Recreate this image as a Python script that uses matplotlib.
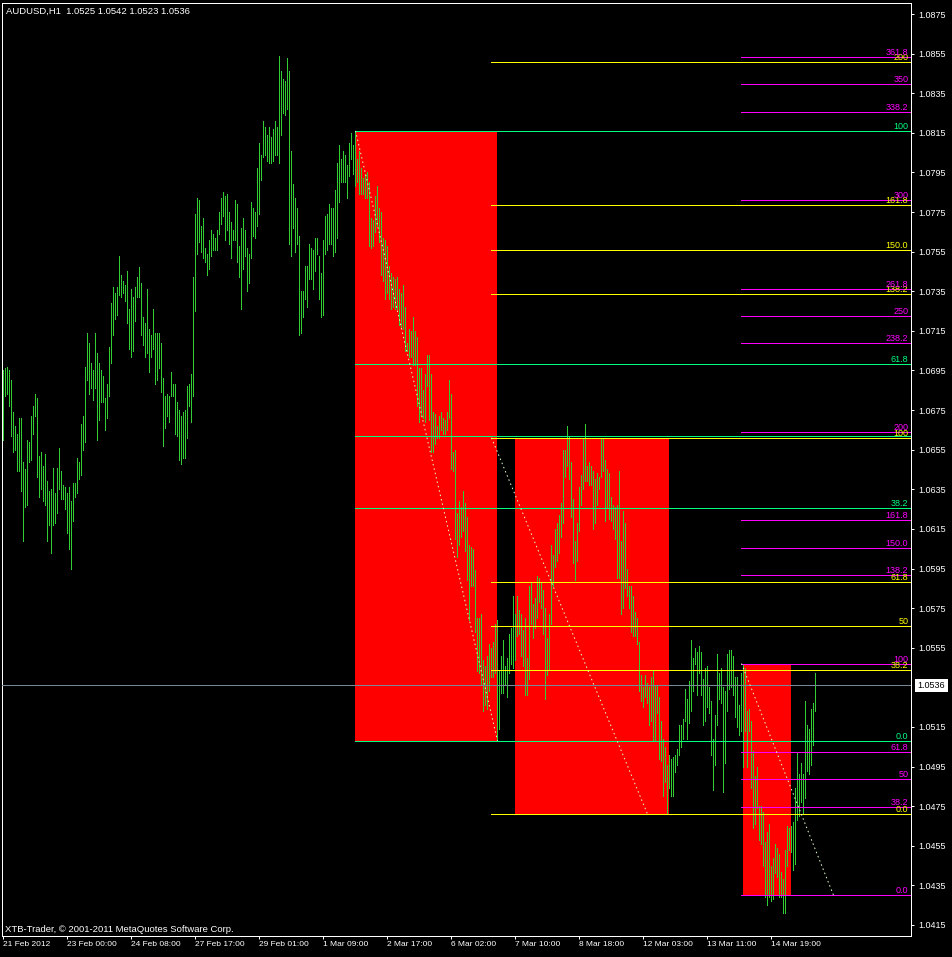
import matplotlib
matplotlib.use("Agg")
import matplotlib.pyplot as plt
from matplotlib.patches import Rectangle
from matplotlib.transforms import blended_transform_factory

plt.rcParams['font.family'] = ['Liberation Sans', 'DejaVu Sans']

symbol_info = "AUDUSD,H1  1.0525 1.0542 1.0523 1.0536"
copyright_txt = "XTB-Trader, © 2001-2011 MetaQuotes Software Corp."

# H1 bars (high / low)
highs = [
    1.0695, 1.0696, 1.0697, 1.0695, 1.0690, 1.0674, 1.0667, 1.0663, 1.0671, 1.0671,
    1.0649, 1.0645, 1.0660, 1.0659, 1.0672, 1.0677, 1.0683, 1.0681, 1.0652, 1.0654,
    1.0647, 1.0653, 1.0639, 1.0634, 1.0635, 1.0646, 1.0633, 1.0646, 1.0656, 1.0644,
    1.0637, 1.0636, 1.0633, 1.0636, 1.0629, 1.0638, 1.0638, 1.0651, 1.0649, 1.0668,
    1.0672, 1.0697, 1.0714, 1.0709, 1.0699, 1.0695, 1.0714, 1.0704, 1.0699, 1.0695,
    1.0692, 1.0681, 1.0688, 1.0707, 1.0729, 1.0737, 1.0734, 1.0737, 1.0753, 1.0743,
    1.0740, 1.0738, 1.0745, 1.0726, 1.0736, 1.0732, 1.0737, 1.0742, 1.0747, 1.0739,
    1.0722, 1.0719, 1.0736, 1.0716, 1.0713, 1.0726, 1.0714, 1.0714, 1.0714, 1.0709,
    1.0691, 1.0682, 1.0683, 1.0682, 1.0694, 1.0688, 1.0688, 1.0679, 1.0675, 1.0672,
    1.0674, 1.0675, 1.0687, 1.0688, 1.0693, 1.0742, 1.0774, 1.0782, 1.0781, 1.0768,
    1.0772, 1.0757, 1.0754, 1.0761, 1.0766, 1.0764, 1.0762, 1.0766, 1.0775, 1.0782,
    1.0785, 1.0783, 1.0784, 1.0775, 1.0770, 1.0766, 1.0781, 1.0779, 1.0758, 1.0767,
    1.0772, 1.0766, 1.0757, 1.0754, 1.0780, 1.0777, 1.0775, 1.0797, 1.0810, 1.0804,
    1.0821, 1.0818, 1.0814, 1.0818, 1.0813, 1.0817, 1.0821, 1.0818, 1.0854, 1.0846,
    1.0842, 1.0841, 1.0853, 1.0846, 1.0806, 1.0789, 1.0782, 1.0777, 1.0763, 1.0735,
    1.0735, 1.0748, 1.0748, 1.0759, 1.0757, 1.0756, 1.0762, 1.0762, 1.0753, 1.0744,
    1.0761, 1.0773, 1.0774, 1.0779, 1.0777, 1.0777, 1.0786, 1.0800, 1.0809, 1.0802,
    1.0806, 1.0804, 1.0799, 1.0810, 1.0815, 1.0809, 1.0816, 1.0802, 1.0806, 1.0797,
    1.0792, 1.0794, 1.0795, 1.0790, 1.0772, 1.0771, 1.0783, 1.0788, 1.0777, 1.0775,
    1.0762, 1.0761, 1.0758, 1.0748, 1.0744, 1.0742, 1.0741, 1.0742, 1.0736, 1.0734,
    1.0738, 1.0727, 1.0709, 1.0716, 1.0715, 1.0722, 1.0715, 1.0712, 1.0696, 1.0696,
    1.0685, 1.0693, 1.0703, 1.0703, 1.0693, 1.0674, 1.0673, 1.0667, 1.0672, 1.0674,
    1.0671, 1.0670, 1.0674, 1.0690, 1.0683, 1.0654, 1.0655, 1.0623, 1.0629, 1.0626,
    1.0634, 1.0628, 1.0621, 1.0607, 1.0606, 1.0605, 1.0594, 1.0570, 1.0570, 1.0572,
    1.0549, 1.0546, 1.0551, 1.0557, 1.0555, 1.0558, 1.0567, 1.0569, 1.0543, 1.0551,
    1.0559, 1.0546, 1.0550, 1.0562, 1.0565, 1.0581, 1.0572, 1.0581, 1.0574, 1.0572,
    1.0564, 1.0570, 1.0550, 1.0586, 1.0588, 1.0577, 1.0580, 1.0591, 1.0590, 1.0588,
    1.0584, 1.0575, 1.0560, 1.0572, 1.0607, 1.0602, 1.0615, 1.0618, 1.0622, 1.0628,
    1.0655, 1.0655, 1.0667, 1.0662, 1.0649, 1.0630, 1.0609, 1.0618, 1.0636, 1.0642,
    1.0661, 1.0668, 1.0647, 1.0649, 1.0647, 1.0644, 1.0640, 1.0643, 1.0641, 1.0661,
    1.0661, 1.0650, 1.0645, 1.0643, 1.0631, 1.0627, 1.0626, 1.0627, 1.0644, 1.0609,
    1.0624, 1.0618, 1.0595, 1.0586, 1.0586, 1.0581, 1.0573, 1.0570, 1.0558, 1.0541,
    1.0535, 1.0541, 1.0537, 1.0535, 1.0540, 1.0543, 1.0536, 1.0536, 1.0530, 1.0518,
    1.0509, 1.0505, 1.0496, 1.0501, 1.0499, 1.0500, 1.0501, 1.0504, 1.0516, 1.0516,
    1.0519, 1.0534, 1.0529, 1.0538, 1.0559, 1.0550, 1.0555, 1.0553, 1.0556, 1.0553,
    1.0539, 1.0545, 1.0546, 1.0535, 1.0528, 1.0509, 1.0521, 1.0552, 1.0542, 1.0545,
    1.0535, 1.0533, 1.0552, 1.0554, 1.0554, 1.0551, 1.0540, 1.0540, 1.0526, 1.0542,
    1.0547, 1.0545, 1.0523, 1.0524, 1.0518, 1.0503, 1.0490, 1.0495, 1.0475, 1.0475,
    1.0472, 1.0457, 1.0462, 1.0466, 1.0445, 1.0449, 1.0456, 1.0454, 1.0451, 1.0442,
    1.0438, 1.0453, 1.0465, 1.0464, 1.0465, 1.0467, 1.0484, 1.0502, 1.0491, 1.0497,
    1.0491, 1.0528, 1.0516, 1.0514, 1.0524, 1.0527, 1.0542,
]
lows = [
    1.0660, 1.0682, 1.0683, 1.0677, 1.0662, 1.0654, 1.0655, 1.0644, 1.0644, 1.0634,
    1.0609, 1.0626, 1.0627, 1.0649, 1.0650, 1.0663, 1.0672, 1.0641, 1.0631, 1.0635,
    1.0629, 1.0627, 1.0609, 1.0617, 1.0603, 1.0617, 1.0618, 1.0623, 1.0635, 1.0630,
    1.0630, 1.0625, 1.0613, 1.0605, 1.0595, 1.0619, 1.0631, 1.0633, 1.0640, 1.0642,
    1.0655, 1.0659, 1.0690, 1.0683, 1.0686, 1.0680, 1.0686, 1.0660, 1.0670, 1.0679,
    1.0679, 1.0665, 1.0671, 1.0682, 1.0699, 1.0713, 1.0721, 1.0723, 1.0733, 1.0732,
    1.0734, 1.0730, 1.0719, 1.0706, 1.0702, 1.0705, 1.0720, 1.0732, 1.0732, 1.0713,
    1.0708, 1.0702, 1.0704, 1.0694, 1.0702, 1.0706, 1.0688, 1.0690, 1.0696, 1.0684,
    1.0657, 1.0666, 1.0672, 1.0669, 1.0682, 1.0682, 1.0663, 1.0662, 1.0650, 1.0648,
    1.0651, 1.0651, 1.0661, 1.0677, 1.0669, 1.0682, 1.0725, 1.0754, 1.0760, 1.0755,
    1.0752, 1.0750, 1.0743, 1.0746, 1.0753, 1.0756, 1.0756, 1.0756, 1.0764, 1.0769,
    1.0773, 1.0761, 1.0766, 1.0759, 1.0752, 1.0761, 1.0761, 1.0750, 1.0742, 1.0726,
    1.0746, 1.0753, 1.0735, 1.0739, 1.0752, 1.0763, 1.0762, 1.0768, 1.0774, 1.0791,
    1.0803, 1.0804, 1.0801, 1.0800, 1.0800, 1.0801, 1.0804, 1.0804, 1.0800, 1.0814,
    1.0825, 1.0824, 1.0827, 1.0759, 1.0753, 1.0767, 1.0755, 1.0759, 1.0713, 1.0714,
    1.0722, 1.0731, 1.0727, 1.0741, 1.0741, 1.0736, 1.0745, 1.0754, 1.0731, 1.0722,
    1.0723, 1.0754, 1.0756, 1.0759, 1.0759, 1.0753, 1.0755, 1.0762, 1.0780, 1.0790,
    1.0790, 1.0790, 1.0782, 1.0793, 1.0802, 1.0794, 1.0788, 1.0790, 1.0784, 1.0784,
    1.0784, 1.0782, 1.0782, 1.0758, 1.0757, 1.0758, 1.0765, 1.0768, 1.0760, 1.0743,
    1.0740, 1.0731, 1.0734, 1.0731, 1.0726, 1.0727, 1.0726, 1.0726, 1.0718, 1.0717,
    1.0716, 1.0705, 1.0705, 1.0702, 1.0702, 1.0698, 1.0698, 1.0677, 1.0669, 1.0672,
    1.0671, 1.0669, 1.0687, 1.0670, 1.0654, 1.0654, 1.0658, 1.0661, 1.0661, 1.0665,
    1.0663, 1.0663, 1.0665, 1.0671, 1.0645, 1.0644, 1.0610, 1.0601, 1.0607, 1.0611,
    1.0614, 1.0604, 1.0589, 1.0569, 1.0586, 1.0586, 1.0563, 1.0543, 1.0542, 1.0536,
    1.0523, 1.0526, 1.0524, 1.0533, 1.0540, 1.0540, 1.0542, 1.0508, 1.0514, 1.0532,
    1.0532, 1.0536, 1.0530, 1.0542, 1.0547, 1.0545, 1.0549, 1.0561, 1.0562, 1.0551,
    1.0546, 1.0531, 1.0531, 1.0539, 1.0567, 1.0560, 1.0565, 1.0570, 1.0578, 1.0575,
    1.0562, 1.0529, 1.0541, 1.0544, 1.0567, 1.0586, 1.0596, 1.0599, 1.0603, 1.0611,
    1.0618, 1.0641, 1.0647, 1.0640, 1.0621, 1.0598, 1.0589, 1.0599, 1.0614, 1.0627,
    1.0635, 1.0639, 1.0639, 1.0637, 1.0637, 1.0615, 1.0618, 1.0627, 1.0635, 1.0641,
    1.0644, 1.0619, 1.0626, 1.0620, 1.0619, 1.0615, 1.0610, 1.0590, 1.0590, 1.0572,
    1.0575, 1.0585, 1.0581, 1.0575, 1.0563, 1.0561, 1.0561, 1.0557, 1.0533, 1.0528,
    1.0525, 1.0530, 1.0527, 1.0516, 1.0518, 1.0508, 1.0508, 1.0522, 1.0499, 1.0498,
    1.0480, 1.0487, 1.0471, 1.0484, 1.0480, 1.0480, 1.0492, 1.0496, 1.0501, 1.0505,
    1.0509, 1.0518, 1.0509, 1.0517, 1.0523, 1.0533, 1.0547, 1.0531, 1.0542, 1.0531,
    1.0516, 1.0518, 1.0525, 1.0522, 1.0501, 1.0483, 1.0496, 1.0516, 1.0529, 1.0527,
    1.0482, 1.0497, 1.0523, 1.0534, 1.0535, 1.0531, 1.0520, 1.0515, 1.0511, 1.0513,
    1.0495, 1.0513, 1.0495, 1.0513, 1.0484, 1.0464, 1.0466, 1.0474, 1.0458, 1.0456,
    1.0445, 1.0429, 1.0425, 1.0429, 1.0427, 1.0428, 1.0441, 1.0439, 1.0429, 1.0429,
    1.0421, 1.0421, 1.0445, 1.0453, 1.0452, 1.0443, 1.0446, 1.0468, 1.0470, 1.0477,
    1.0471, 1.0479, 1.0493, 1.0491, 1.0496, 1.0506, 1.0523,
]
last_price = 1.0536

time_ticks = [0, 32, 64, 96, 128, 160, 192, 224, 256, 288, 320, 352, 384]
time_labels = ["21 Feb 2012", "23 Feb 00:00", "24 Feb 08:00", "27 Feb 17:00",
               "29 Feb 01:00", "1 Mar 09:00", "2 Mar 17:00", "6 Mar 02:00",
               "7 Mar 10:00", "8 Mar 18:00", "12 Mar 03:00", "13 Mar 11:00",
               "14 Mar 19:00"]
# the 1.0535 label is hidden under the last-price box in the terminal
price_ticks = [1.0875, 1.0855, 1.0835, 1.0815, 1.0795, 1.0775, 1.0755, 1.0735,
               1.0715, 1.0695, 1.0675, 1.0655, 1.0635, 1.0615, 1.0595, 1.0575,
               1.0555, 1.0515, 1.0495, 1.0475, 1.0455, 1.0435, 1.0415]

# rectangles (bar from, bar to, price top, price bottom)
rect_t0 = [176, 256, 370]
rect_t1 = [247, 333, 394]
rect_top = [1.0816, 1.0661, 1.0547]
rect_bot = [1.0508, 1.0471, 1.0430]

# fibo objects: anchor bars, anchor prices, levels, labels
green_t = [176, 247]
green_p = [1.0816, 1.0508]
green_lv = [0, 38.2, 50, 61.8, 100]
green_lb = ["0.0", "38.2", "", "61.8", "100"]

yellow_t = [244, 322]
yellow_p = [1.0661, 1.0471]
yellow_lv = [0, 38.2, 50, 61.8, 100, 138.2, 150, 161.8, 200]
yellow_lb = ["0.0", "38.2", "50", "61.8", "100", "138.2", "150.0", "161.8", "200"]

mag_t = [369, 415]
mag_p = [1.0547, 1.0430]
mag_lv = [0, 38.2, 50, 61.8, 100, 138.2, 150, 161.8, 200, 238.2, 250, 261.8,
          300, 338.2, 350, 361.8]
mag_lb = ["0.0", "38.2", "50", "61.8", "100", "138.2", "150.0", "161.8", "200",
          "238.2", "250", "261.8", "300", "338.2", "350", "361.8"]

W, H = 953, 957
px = 0.72  # one pixel in points at dpi 100

fig = plt.figure(figsize=(W / 100, H / 100), dpi=100, facecolor="black")
ax = fig.add_axes([2.5 / W, (H - 935.5) / H, 909 / W, 933 / H])
ax.set_facecolor("black")
ax.set_xlim(-0.5, 454)
ax.set_ylim(1.040969, 1.088081)
for s in ax.spines.values():
    s.set_color("white")
    s.set_linewidth(px)

XMAX = 454
blend = blended_transform_factory(ax.transAxes, ax.transData)

# red rectangles
for t0, t1, top, bot in zip(rect_t0, rect_t1, rect_top, rect_bot):
    ax.add_patch(Rectangle((t0, bot), t1 - t0, top - bot, facecolor="#ff0000",
                           edgecolor="none", zorder=1))

# bars
ax.vlines(range(len(highs)), lows, highs, color="#32cd32", lw=px,
          antialiased=False, zorder=2)

# fibo levels
fibs = [
    (green_t, green_p, green_lv, green_lb, "#00ff7f"),
    (yellow_t, yellow_p, yellow_lv, yellow_lb, "#ffff00"),
    (mag_t, mag_p, mag_lv, mag_lb, "#ff00ff"),
]
for t, p, lvls, labs, col in fibs:
    for lv, lab in zip(lvls, labs):
        y = p[1] + lv / 100 * (p[0] - p[1])
        ax.hlines(y, t[0], XMAX, color=col, lw=px, antialiased=False, zorder=3)
        if lab:
            ax.text(0.9965, y, lab, transform=blend, ha="right", va="bottom",
                    color=col, fontsize=6.5, zorder=5)
for t, p, lvls, labs, col in fibs:
    ax.plot(t, p, color="#ddffcc", lw=px, ls=(0, (1.5, 3)), zorder=4)

# last price line and label
ax.axhline(last_price, color="#778899", lw=px, antialiased=False, zorder=3)
ax.annotate(f"{last_price:.4f}", xy=(1, last_price),
            xycoords=("axes fraction", "data"), xytext=(4.5, 0),
            textcoords="offset points", ha="left", va="center", color="black",
            fontsize=6.5, zorder=6, annotation_clip=False,
            bbox=dict(boxstyle="square,pad=0.25", fc="white", ec="white", lw=0))

# axes ticks
ax.yaxis.tick_right()
ax.set_yticks(price_ticks)
ax.set_yticklabels([f"{v:.4f}" for v in price_ticks])
ax.tick_params(axis="y", colors="white", length=3 * px, width=px, pad=3,
               labelsize=6.5)
ax.set_xticks(time_ticks)
ax.set_xticklabels(time_labels)
ax.tick_params(axis="x", colors="white", length=3 * px, width=px, pad=1.5,
               labelsize=6)
for lbl in ax.get_xticklabels():
    lbl.set_ha("left")

fig.text(6 / W, 1 - 11 / H, symbol_info, color="white", fontsize=6.8,
         ha="left", va="center")
fig.text(5 / W, 1 - 930 / H, copyright_txt, color="white", fontsize=6.8,
         ha="left", va="center")

fig.savefig("out.png", dpi=100, facecolor="black")
